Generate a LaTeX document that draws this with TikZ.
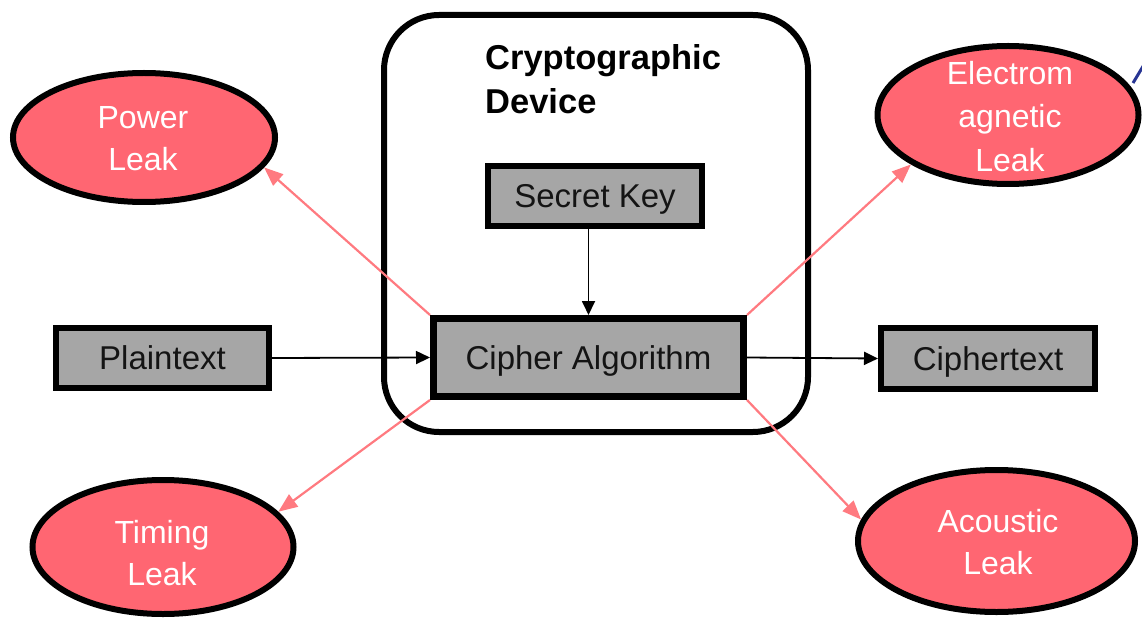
\documentclass[tikz,border=0pt]{standalone}
\usepackage{fontspec}
\setmainfont{Liberation Sans}
\usetikzlibrary{shapes.geometric,arrows.meta}
\definecolor{leakred}{RGB}{255,102,114}
\definecolor{leakarrow}{RGB}{255,122,128}
\definecolor{boxgray}{RGB}{166,166,166}
\definecolor{inkblack}{RGB}{20,20,20}
\definecolor{strayblue}{RGB}{40,53,147}
\tikzset{
  bodyfont/.style={font=\fontsize{32}{42}\selectfont},
  device/.style={draw=black, line width=6pt, rounded corners=55pt, minimum width=424pt, minimum height=417pt, inner sep=0pt},
  stagebox/.style={draw=black, fill=boxgray, line width=6pt, inner sep=0pt, text=inkblack,
                   font=\fontsize{33}{42}\selectfont, text height=23.5pt, text depth=0pt},
  leak/.style={ellipse, draw=black, fill=leakred, line width=6pt, inner sep=0pt},
  leaktext/.style={text=white, align=center, inner sep=0pt, bodyfont},
  flow/.style={draw=black, line width=1.8pt, -{Triangle[length=14pt,width=13pt]}},
  leakflow/.style={draw=leakarrow, line width=2.2pt, -{Triangle[length=19pt,width=15pt]}}
}
\begin{document}
\begin{tikzpicture}[x=1pt,y=-1pt]
\useasboundingbox (0,0) rectangle (1142,620);

% device enclosure and its title
\node[device] (dev) at (596,223.5) {};
\node[anchor=north west, align=left, inner sep=0pt, text=black,
      font=\fontsize{34.5}{44}\selectfont\bfseries] (devtitle) at (485,44) {Cryptographic\\Device};

% processing stages
\node[stagebox, minimum width=214pt, minimum height=60pt] (sk) at (595,196) {Secret Key};
\node[stagebox, line width=7pt, minimum width=310pt, minimum height=78pt] (ci) at (588.5,357.5) {Cipher Algorithm};
\node[stagebox, minimum width=213pt, minimum height=60pt] (pt) at (162.5,358) {Plaintext};
\node[stagebox, minimum width=214pt, minimum height=61pt] (ct) at (988,358.5) {Ciphertext};

% side-channel leaks
\node[leak, minimum width=262pt, minimum height=129pt] (pw) at (144,137.5) {};
\node[leaktext] (pwt) at (143,138.5) {Power\\Leak};
\node[leak, minimum width=261pt, minimum height=138pt] (em) at (1008,115) {};
\node[leaktext, font=\fontsize{32}{43.5}\selectfont] (emt) at (1010,116.5) {Electrom\\agnetic\\Leak};
\node[leak, minimum width=261pt, minimum height=134pt] (tm) at (163,547) {};
\node[leaktext] (tmt) at (162,553.5) {Timing\\Leak};
\node[leak, minimum width=277pt, minimum height=142pt] (ac) at (996.5,541) {};
\node[leaktext] (act) at (998,542) {Acoustic\\Leak};

% data flow
\draw[flow] (sk.south -| ci.north) -- (ci.north);
\draw[flow] (pt.east) -- (ci.west);
\draw[flow] (ci.east) -- (ct.west);

% leakage paths
\draw[leakflow] (ci.north west) -- (pw.-14);
\draw[leakflow] (ci.south west) -- (tm.17);
\draw[leakflow] (ci.north east) -- (em.207);
\draw[leakflow] (ci.south east) -- (ac.171);

% stray stroke at the upper right edge
\coordinate (blueA) at (1133,83);
\coordinate (blueB) at (1148,58);
\draw[strayblue, line width=3pt] (blueA) -- (blueB);
\end{tikzpicture}
\end{document}
